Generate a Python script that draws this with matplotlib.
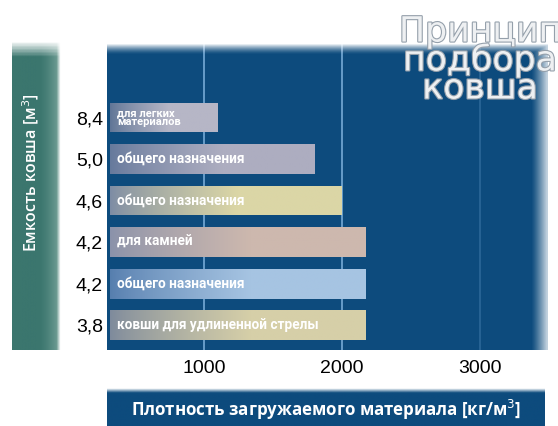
import numpy as np
import matplotlib
matplotlib.use("Agg")
import matplotlib.pyplot as plt
from matplotlib import patheffects as pe
from matplotlib.colors import to_rgb

# ---------------- data ----------------
capacities = ["3,8", "4,2", "4,2", "4,6", "5,0", "8,4"]
bucket_types = ["ковши для удлиненной стрелы", "общего назначения", "для камней",
                "общего назначения", "общего назначения", "для легких\nматериалов"]
max_density = [2170, 2170, 2170, 2000, 1800, 1100]
x_ticks = [1000, 2000, 3000]
x_tick_labels = ["1000", "2000", "3000"]
title_lines = ["Принцип", "подбора", "ковша"]
y_title = "Емкость ковша [м$^3$]"
x_title = "Плотность загружаемого материала [кг/м$^3$]"

# ---------------- style ----------------
bar_light = ["#d6cfa8", "#a6c4e2", "#cdb8ae", "#dbd6a6", "#adadc0", "#b6b6c6"]
bar_dark = ["#7e8a9c", "#567eae", "#8a92aa", "#7d8ca4", "#66799c", "#5f7596"]
panel_color = "#0d4b7d"
BAR_START = 320
LABEL_FONT = ["Roboto", "DejaVu Sans"]

W, H = 558, 426
fig = plt.figure(figsize=(W / 100, H / 100), dpi=100)
fig.patch.set_facecolor("white")

def fx(px):
    return px / W

def fy(py):
    return 1 - py / H

# green strip for y title
sax = fig.add_axes([fx(12), fy(350), fx(60) - fx(12), fy(40) - fy(350)])
sax.set_axis_off()
g = np.ones((100, 60, 4))
c0 = np.array(to_rgb("#3b766e"))
c1 = np.array(to_rgb("#7aa59c"))
xs = np.linspace(0, 1, 60)
mix = np.clip((xs - 0.55) / 0.45, 0, 1) ** 1.5
cols = c0[None, :] * (1 - mix[:, None]) + c1[None, :] * mix[:, None]
g[:, :, :3] = cols[None, :, :]
ys = np.linspace(0, 1, 100)  # top -> bottom
alpha = np.clip(ys / 0.05, 0, 1)
edge = np.clip((1 - xs) / 0.08, 0, 1)
g[:, :, 3] = alpha[:, None] * edge[None, :]
sax.imshow(g, aspect="auto", extent=(0, 1, 0, 1))
sax.set_xlim(0, 1); sax.set_ylim(0, 1)

# main panel
ax = fig.add_axes([fx(107), fy(350), fx(548) - fx(107), fy(43) - fy(350)])
ax.set_facecolor(panel_color)
for s in ax.spines.values():
    s.set_visible(False)

ypos = np.arange(len(capacities))

# gridlines
for i, t in enumerate(x_ticks):
    ax.axvline(t, color="#7fb2de", lw=1.3, alpha=0.85 if i < 2 else 0.25, zorder=1)

bars = ax.barh(ypos, [v - BAR_START for v in max_density], left=BAR_START,
               height=0.72, color=bar_light, edgecolor="none", zorder=2)

# gradient shading inside each bar
for b, cl, cd in zip(bars, bar_light, bar_dark):
    n = 200
    t = np.linspace(0, 1, n)
    m = np.clip(t / 0.55, 0, 1) ** 0.8
    a = np.array(to_rgb(cd)); bcol = np.array(to_rgb(cl))
    row = a[None, :] * (1 - m[:, None]) + bcol[None, :] * m[:, None]
    img = np.repeat(row[None, :, :], 4, axis=0)
    x0, y0 = b.get_x(), b.get_y()
    im = ax.imshow(img, extent=(x0, x0 + b.get_width(), y0, y0 + b.get_height()),
                   aspect="auto", zorder=3, interpolation="bilinear")
    im.set_clip_path(b)

# overlay: top fade and right glow
ov = np.zeros((200, 200, 4))
ov[:, :, :3] = 1.0
yy = np.linspace(0, 1, 200)[:, None]  # top->bottom
xx = np.linspace(0, 1, 200)[None, :]
top = np.clip(1 - yy / 0.035, 0, 1) ** 1.5
right = np.clip((xx - 0.965) / 0.035, 0, 1) ** 1.2 * 0.75
ov[:, :, 3] = np.maximum(top, right)
ax.imshow(ov, extent=(0, 1, 0, 1), transform=ax.transAxes, aspect="auto",
          zorder=4, interpolation="bilinear")
ax.set_xlim(297, 3493)
ax.set_ylim(-0.60, 6.795)

# bar labels
for y, lab in zip(ypos, bucket_types):
    two = "\n" in lab
    ax.annotate(lab, xy=(BAR_START, y), xytext=(5, 0), textcoords="offset points",
                va="center", ha="left", color="white", fontweight="bold",
                fontsize=8 if two else 9.8, linespacing=0.85,
                family=LABEL_FONT, zorder=5)

ax.set_yticks(ypos)
ax.set_yticklabels(capacities, fontsize=14, family="Liberation Sans", color="black")
ax.set_xticks(x_ticks)
ax.set_xticklabels(x_tick_labels, fontsize=14, family="Liberation Sans", color="black")
ax.tick_params(axis="both", length=0)
ax.tick_params(axis="y", pad=3)
ax.tick_params(axis="x", pad=7)

# bottom x-title band
bax = fig.add_axes([fx(107), 0, fx(545) - fx(107), fy(388)])
bax.set_axis_off()
bb = np.zeros((60, 10, 4))
bb[:, :, :3] = to_rgb(panel_color)
yb = np.linspace(0, 1, 60)[:, None]
bb[:, :, 3] = np.clip(yb / 0.12, 0, 1)
bax.imshow(bb, extent=(0, 1, 0, 1), aspect="auto", interpolation="bilinear")
bax.set_xlim(0, 1); bax.set_ylim(0, 1)

fig.text(fx(326), fy(410), x_title, ha="center", va="center", color="white",
         fontsize=12.2, fontweight="bold", family="Open Sans")
fig.text(fx(31), fy(173), y_title, ha="center", va="center", color="white",
         fontsize=11.5, fontweight="semibold", rotation=90, family="Open Sans")

# title (single multi-line text block)
fig.text(fx(480), fy(60), "\n".join(title_lines), ha="center", va="center",
         multialignment="center", linespacing=0.78,
         fontsize=25, color="#eef0f2", family="DejaVu Sans",
         path_effects=[pe.withStroke(linewidth=1.6, foreground="#95a0ab")])

fig.savefig("out.png", dpi=100, facecolor="white")
